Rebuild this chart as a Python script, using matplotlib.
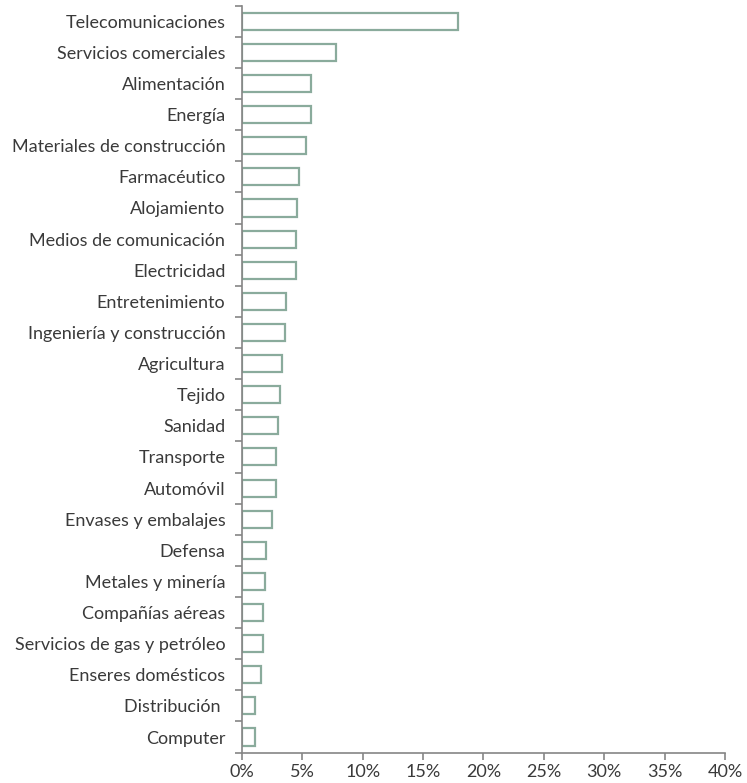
import numpy as np
import matplotlib.pyplot as plt
from matplotlib.ticker import FixedLocator

sectors = [
    "Telecomunicaciones", "Servicios comerciales", "Alimentación", "Energía",
    "Materiales de construcción", "Farmacéutico", "Alojamiento",
    "Medios de comunicación", "Electricidad", "Entretenimiento",
    "Ingeniería y construcción", "Agricultura", "Tejido", "Sanidad",
    "Transporte", "Automóvil", "Envases y embalajes", "Defensa",
    "Metales y minería", "Compañías aéreas", "Servicios de gas y petróleo",
    "Enseres domésticos", "Distribución ", "Computer",
]
share = [
    17.9, 7.8, 5.7, 5.7, 5.3, 4.7, 4.55, 4.45, 4.45, 3.65, 3.55, 3.3,
    3.15, 2.95, 2.8, 2.8, 2.5, 2.0, 1.9, 1.75, 1.7, 1.55, 1.1, 1.05,
]
xticks = [0, 5, 10, 15, 20, 25, 30, 35, 40]

plt.rcParams["font.family"] = ["Lato", "DejaVu Sans"]
text_color = "#3a3a3a"
axis_color = "#858585"
bar_edge = "#8aab9c"

fig = plt.figure(figsize=(7.47, 7.83), dpi=100)
ax = fig.add_axes([0.324, 0.0388, 0.6465, 0.954])

y = np.arange(len(sectors))
ax.barh(y, share, height=0.55, color="white", edgecolor=bar_edge, linewidth=1.6)

ax.set_ylim(len(sectors) - 0.5, -0.5)
ax.set_yticks(y)
ax.set_yticklabels(sectors, fontsize=13, color=text_color)
# tick marks sit between categories, labels carry no tick
ax.yaxis.set_minor_locator(FixedLocator(np.arange(-0.5, len(sectors), 1)))
ax.tick_params(axis="y", which="major", length=0, pad=12)
ax.tick_params(axis="y", which="minor", length=5, width=1.2, color=axis_color)

ax.set_xlim(0, 40)
ax.set_xticks(xticks)
ax.set_xticklabels([f"{t}%" for t in xticks], fontsize=13, color=text_color)
ax.tick_params(axis="x", length=5, width=1.2, color=axis_color, pad=3)

for side in ["top", "right"]:
    ax.spines[side].set_visible(False)
for side in ["left", "bottom"]:
    ax.spines[side].set_color(axis_color)
    ax.spines[side].set_linewidth(1.2)

plt.savefig("out.png", dpi=100)
